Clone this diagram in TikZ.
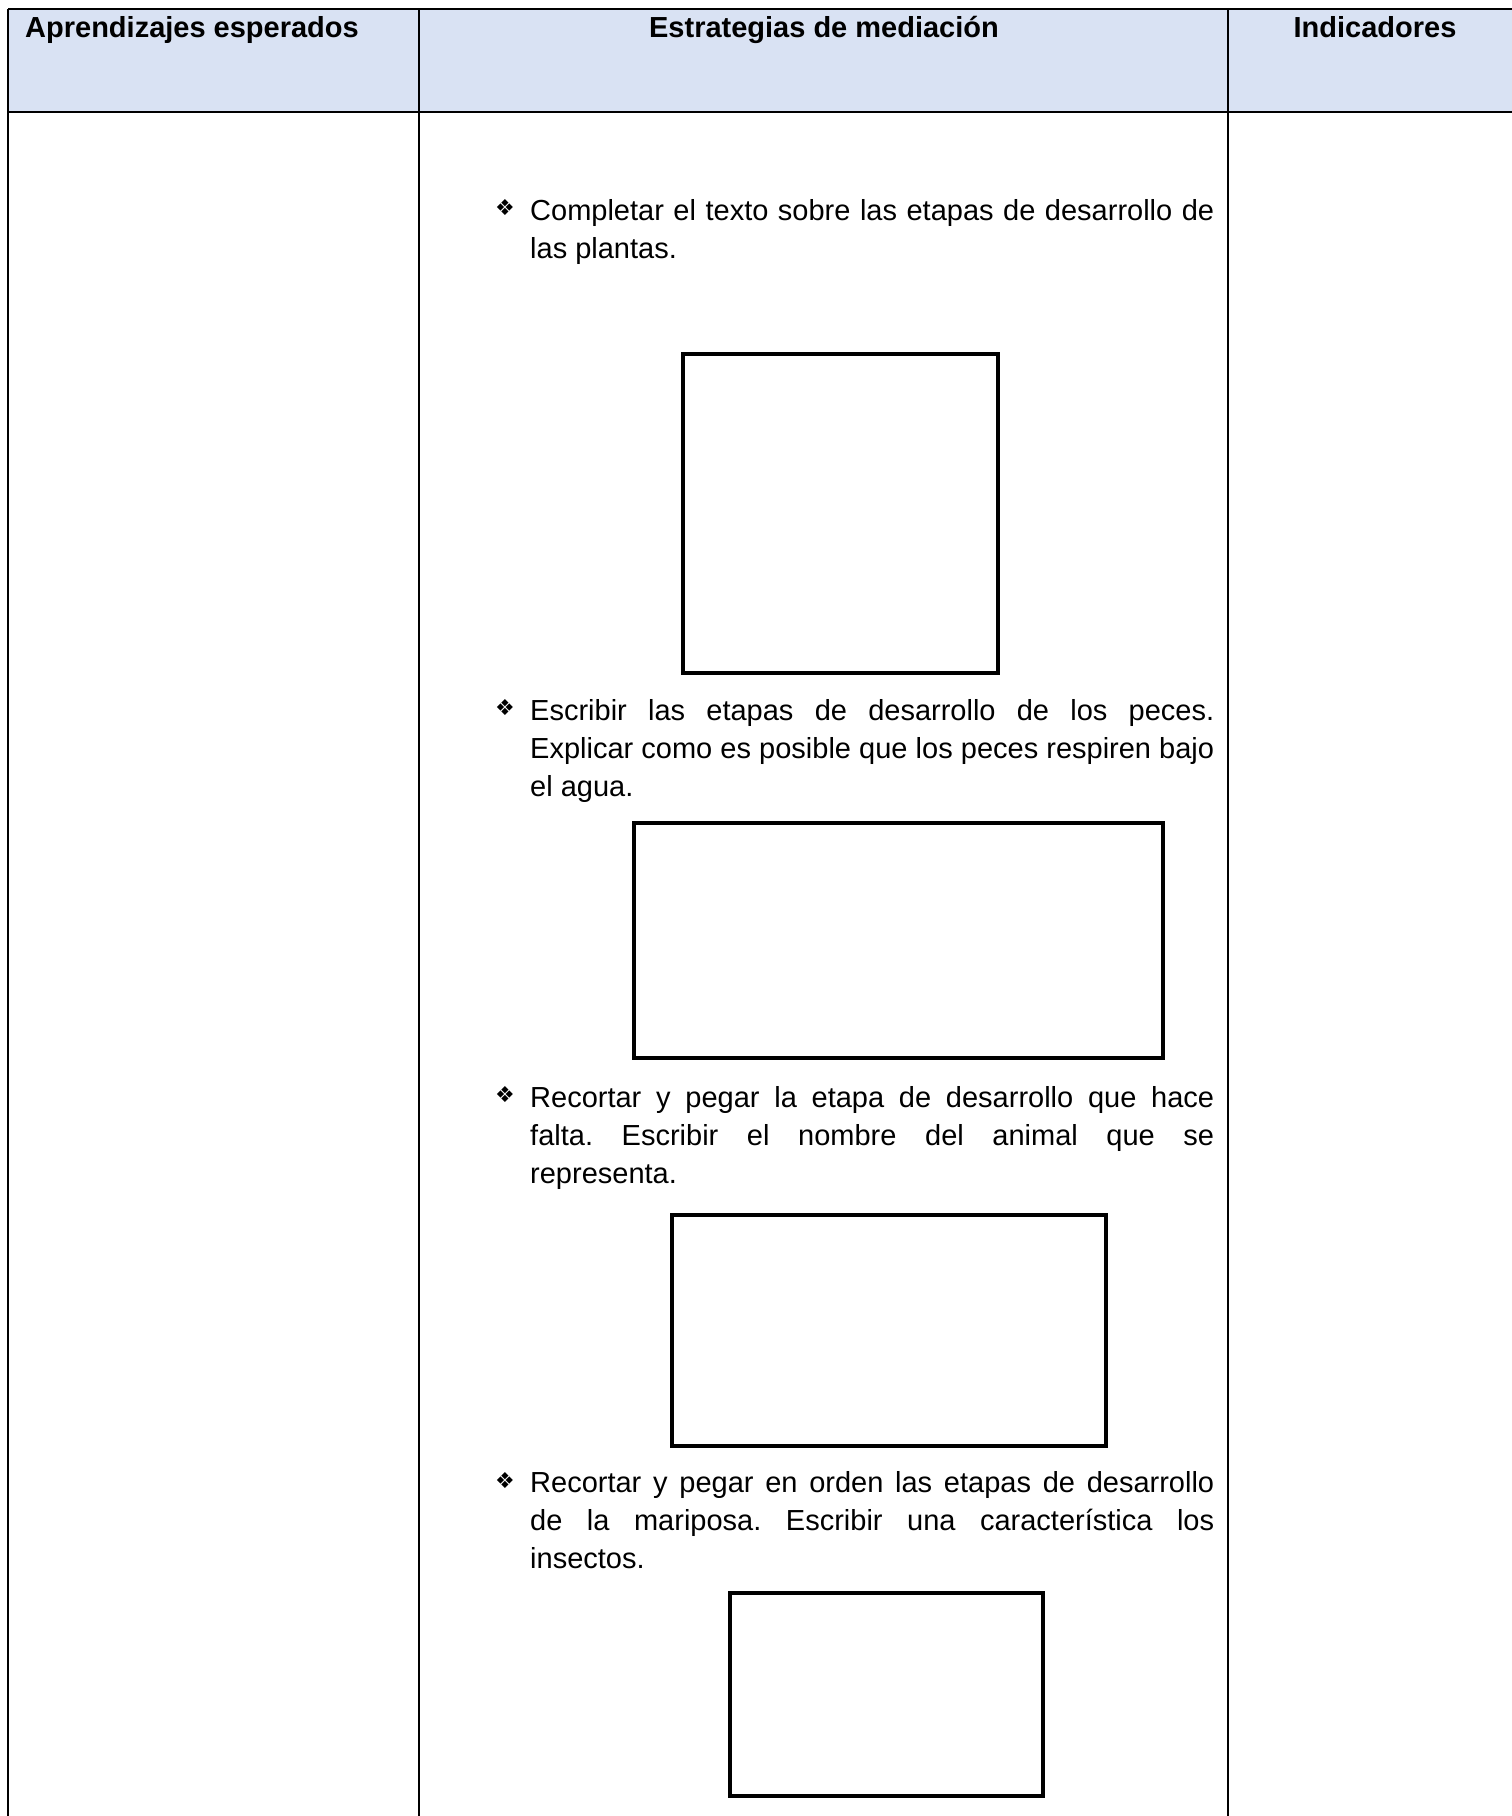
\documentclass[tikz,border=0pt]{standalone}
\usepackage{fontspec}
\setmainfont{Liberation Sans}
\newfontfamily\dejavu{DejaVu Sans}
\definecolor{hdr}{HTML}{D9E2F3}
\frenchspacing
\begin{document}
\begin{tikzpicture}[x=1pt,y=-1pt,
  tline/.style={line width=2.8pt, black},
  boxst/.style={draw, line width=4pt},
  hd/.style={font=\fontsize{29}{34}\selectfont\bfseries, inner sep=0},
  ln/.style={font=\fontsize{29}{38}\selectfont, inner sep=0, anchor=base west},
  bul/.style={font=\dejavu\fontsize{22}{22}\selectfont, inner sep=0, anchor=center}]
\useasboundingbox (0,0) rectangle (1512,1816);
% header fill
\fill[hdr] (8,9) rectangle (1522,112);
% table lines
\draw[tline] (8,9) -- (1522,9);
\draw[tline] (8,112) -- (1522,112);
\draw[tline] (8,9) -- (8,1830);
\draw[tline] (419,9) -- (419,1830);
\draw[tline] (1228,9) -- (1228,1830);
\draw[tline] (1522,9) -- (1522,1830);
% header texts
\node[hd, anchor=base west] (h1) at (25,37) {Aprendizajes esperados};
\node[hd, anchor=base] (h2) at (824,37) {Estrategias de mediación};
\node[hd, anchor=base] (h3) at (1375,37) {Indicadores};
% item 1
\node[bul] (b1) at (505,208) {❖};
\node[ln] (t11) at (530,220) {\makebox[684pt][s]{Completar el texto sobre las etapas de desarrollo de}};
\node[ln] (t12) at (530,258) {las plantas.};
\draw[boxst] (683,354) rectangle (998,673);
% item 2
\node[bul] (b2) at (505,708) {❖};
\node[ln] (t21) at (530,720) {\makebox[684pt][s]{Escribir las etapas de desarrollo de los peces.}};
\node[ln] (t22) at (530,758) {\makebox[684pt][s]{Explicar como es posible que los peces respiren bajo}};
\node[ln] (t23) at (530,796) {el agua.};
\draw[boxst] (634,823) rectangle (1163,1058);
% item 3
\node[bul] (b3) at (505,1095) {❖};
\node[ln] (t31) at (530,1107) {\makebox[684pt][s]{Recortar y pegar la etapa de desarrollo que hace}};
\node[ln] (t32) at (530,1145) {\makebox[684pt][s]{falta. Escribir el nombre del animal que se}};
\node[ln] (t33) at (530,1183) {representa.};
\draw[boxst] (672,1215) rectangle (1106,1446);
% item 4
\node[bul] (b4) at (505,1480) {❖};
\node[ln] (t41) at (530,1492) {\makebox[684pt][s]{Recortar y pegar en orden las etapas de desarrollo}};
\node[ln] (t42) at (530,1530) {\makebox[684pt][s]{de la mariposa. Escribir una característica los}};
\node[ln] (t43) at (530,1568) {insectos.};
\draw[boxst] (730,1593) rectangle (1043,1796);
\end{tikzpicture}
\end{document}
